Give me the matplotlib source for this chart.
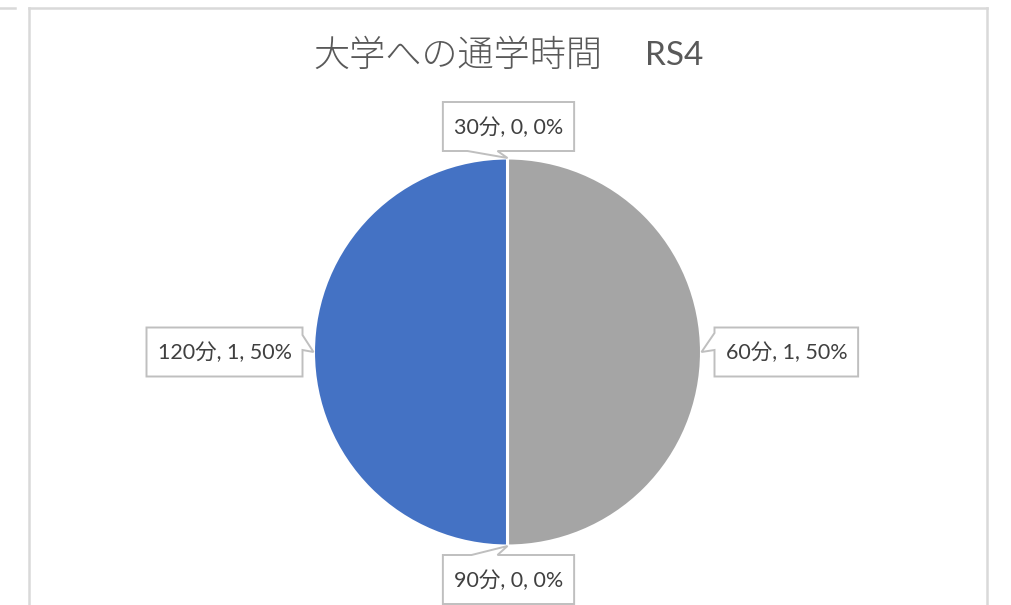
import numpy as np
import matplotlib
matplotlib.use("Agg")
import matplotlib.pyplot as plt
from matplotlib.patches import Polygon
from matplotlib.lines import Line2D

categories = ["30分", "60分", "90分", "120分"]
values = [0, 1, 0, 1]
colors = ["#4472C4", "#A5A5A5", "#FFC000", "#4472C4"]
title_main = "大学への通学時間"
title_suffix = "RS4"

W, H = 1011, 605
fig = plt.figure(figsize=(W / 100, H / 100), dpi=100)
ax = fig.add_axes([0, 0, 1, 1])
ax.set_xlim(0, W)
ax.set_ylim(0, H)
ax.axis("off")

def py(y):
    return H - y

# frame lines (chart border in pixel layout)
frame_col = "#D9D9D9"
ax.add_line(Line2D([29, 987], [py(8), py(8)], color=frame_col, lw=1.8))
ax.add_line(Line2D([29, 29], [py(8), py(606)], color=frame_col, lw=1.8))
ax.add_line(Line2D([987, 987], [py(8), py(606)], color=frame_col, lw=1.8))
ax.add_line(Line2D([0, 15], [py(8), py(8)], color=frame_col, lw=1.8))

cx, cy, R = 507.5, 352, 194
ax.pie(values, colors=colors, startangle=90, counterclock=False,
       center=(cx, py(cy)), radius=R,
       wedgeprops=dict(edgecolor="white", linewidth=2.2, antialiased=True))
ax.set_xlim(0, W)
ax.set_ylim(0, H)
ax.set_aspect("auto")

fig.canvas.draw()
renderer = fig.canvas.get_renderer()

# title: two parts (light CJK + regular latin)
t1 = ax.text(313, py(56), title_main, ha="left", va="center", fontsize=26,
             color="#595959", family=["Noto Sans CJK JP"], fontweight="light")
t2 = ax.text(703, py(56), title_suffix, ha="right", va="center", fontsize=24,
             color="#595959", family=["Lato", "Noto Sans CJK JP"])

total = sum(values)
cum = 0
box_h = 49
for cat, v in zip(categories, values):
    frac_mid = (cum + v / 2) / total
    cum += v
    ang = np.deg2rad(90 - 360 * frac_mid)
    ax_ = cx + R * np.cos(ang)
    ay_ = cy - R * np.sin(ang)
    pct = 100 * v / total
    label = f"{cat}, {v}, {pct:.0f}%"
    t = ax.text(0, 0, label, ha="center", va="center", fontsize=15.5,
                color="#404040", family=["Lato", "Noto Sans CJK JP"], zorder=5)
    tw = t.get_window_extent(renderer).width
    bw = tw + 22
    c, s = np.cos(ang), np.sin(ang)
    if abs(s) > abs(c):
        if s > 0:  # top label
            bxc, byc = ax_ + 1, ay_ - 7 - box_h / 2
            x0, x1, y0, y1 = bxc - bw / 2, bxc + bw / 2, byc - box_h / 2, byc + box_h / 2
            verts = [(x0, y0), (x1, y0), (x1, y1), (ax_ - 10, y1), (ax_, ay_),
                     (ax_ - 40, y1), (x0, y1)]
        else:  # bottom label
            bxc, byc = ax_ + 1, ay_ + 9 + box_h / 2
            x0, x1, y0, y1 = bxc - bw / 2, bxc + bw / 2, byc - box_h / 2, byc + box_h / 2
            verts = [(x0, y0), (ax_ - 36, y0), (ax_, ay_), (ax_ - 10, y0),
                     (x1, y0), (x1, y1), (x0, y1)]
    else:
        if c > 0:  # right label
            x0 = ax_ + 13
            x1 = x0 + bw
            y0, y1 = ay_ - box_h / 2, ay_ + box_h / 2
            verts = [(x0, y0), (x1, y0), (x1, y1), (x0, y1), (x0, ay_ - 2),
                     (ax_, ay_), (x0, ay_ - 19)]
        else:  # left label
            x1 = ax_ - 11
            x0 = x1 - bw
            y0, y1 = ay_ - box_h / 2, ay_ + box_h / 2
            verts = [(x0, y0), (x1, y0), (x1, ay_ - 17), (ax_, ay_),
                     (x1, ay_ - 2), (x1, y1), (x0, y1)]
        bxc, byc = (x0 + x1) / 2, ay_
    poly = Polygon([(x, py(y)) for x, y in verts], closed=True, facecolor="white",
                   edgecolor="#BFBFBF", lw=1.4, zorder=4)
    ax.add_patch(poly)
    t.set_position((bxc, py(byc + 1)))

fig.savefig("out.png", dpi=100)
